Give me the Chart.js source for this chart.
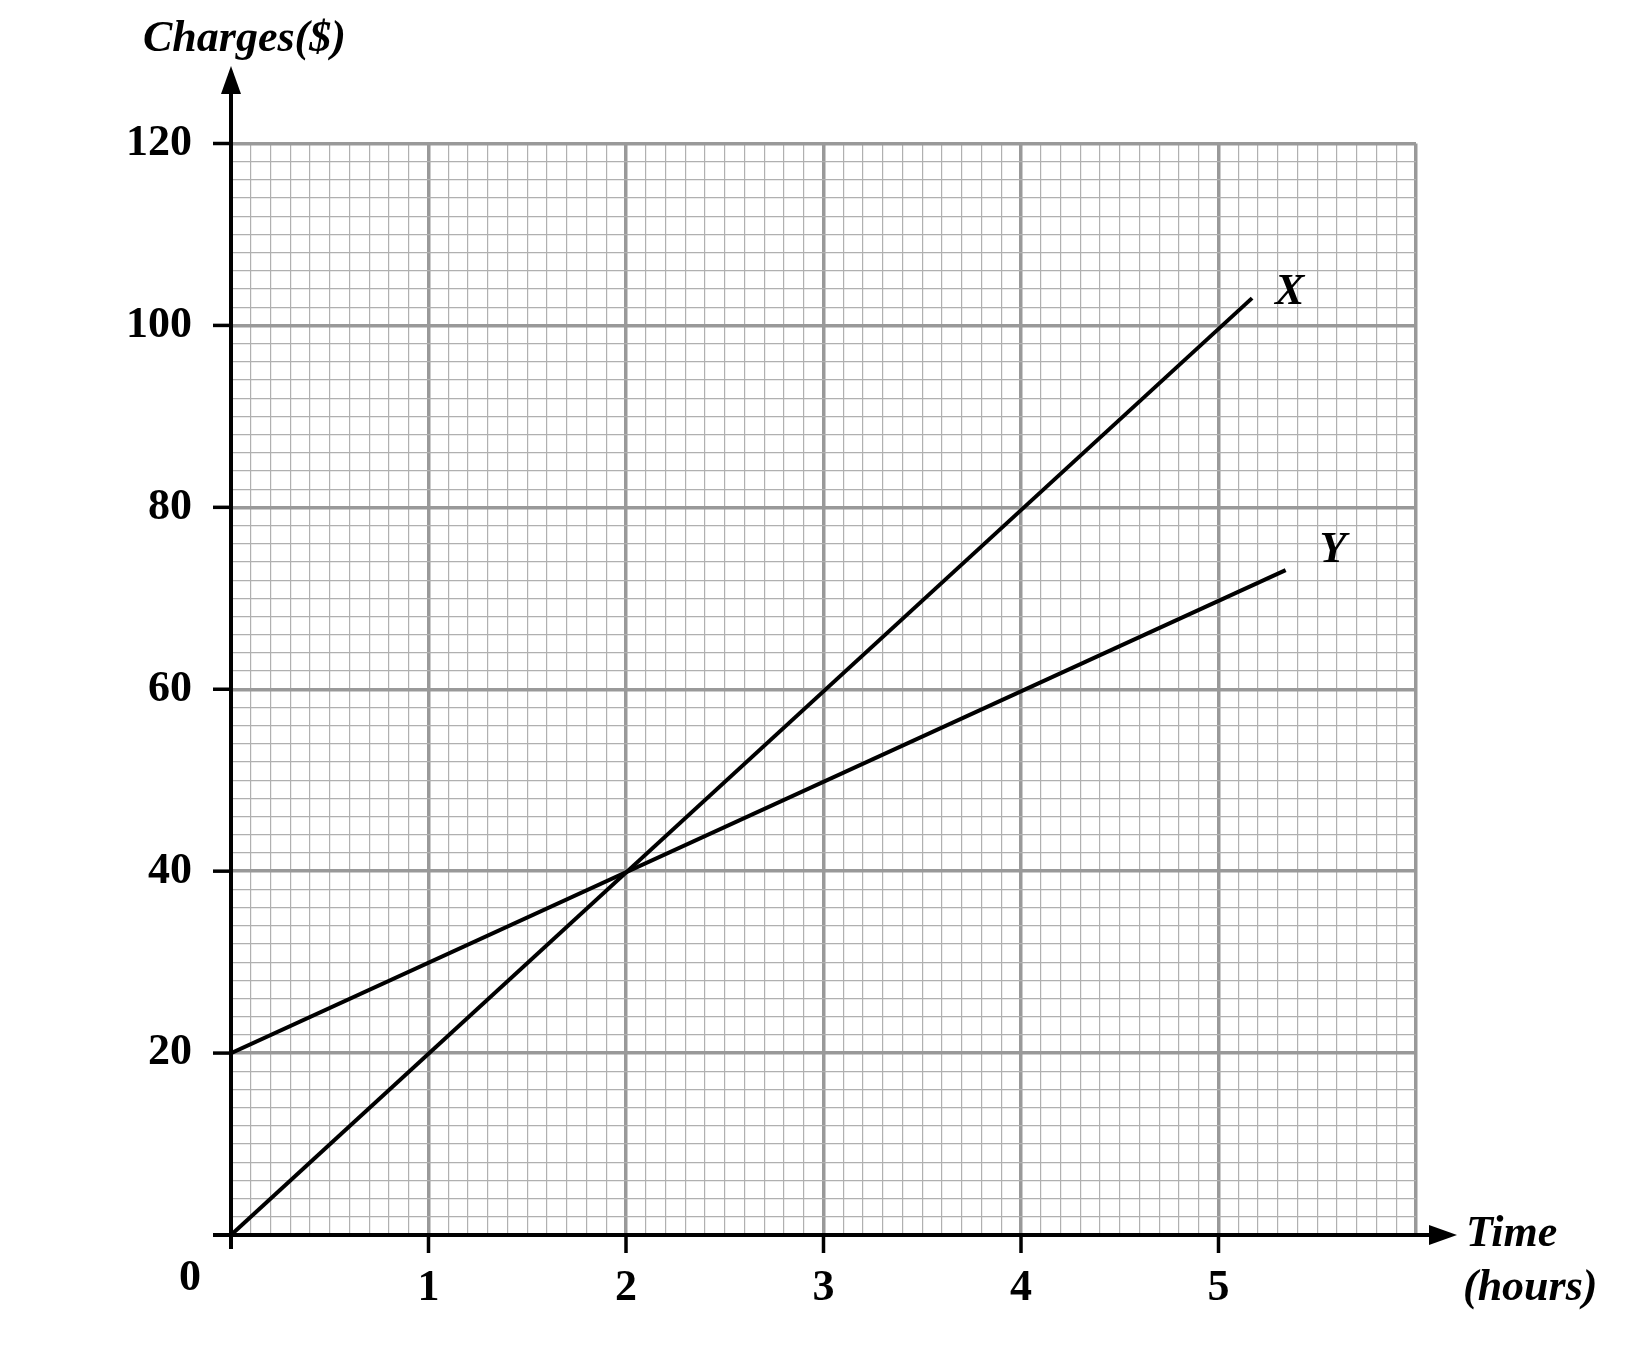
<!DOCTYPE html>
<html><head><meta charset="utf-8">
<script src="https://cdn.jsdelivr.net/npm/chart.js@4"></script>
<style>html,body{margin:0;padding:0;background:#fff}</style>
</head><body>
<canvas id="c" width="1630" height="1353" style="width:1630px;height:1353px"></canvas>
<script>
const xTickLabels = ['1','2','3','4','5'];
const yTickLabels = ['20','40','60','80','100','120'];
const seriesX = [{x:0,y:0},{x:5.17,y:103}];
const seriesY = [{x:0,y:20},{x:5.34,y:73.1}];
const lineLabels = [{t:'X',x:5.36,y:103.6},{t:'Y',x:5.58,y:75.2}];

const F = 'bold 44px "Liberation Serif", serif';
const FI = 'italic bold 44px "Liberation Serif", serif';
const deco = {
  id:'deco',
  afterDraw(chart){
    const c=chart.ctx, xs=chart.scales.x, ys=chart.scales.y;
    const x0=xs.getPixelForValue(0), y0=ys.getPixelForValue(0);
    c.save();
    c.strokeStyle='#000'; c.fillStyle='#000'; c.lineWidth=4;
    c.beginPath(); c.moveTo(x0,y0+14); c.lineTo(x0,85); c.stroke();
    c.beginPath(); c.moveTo(x0-18,y0); c.lineTo(1440,y0); c.stroke();
    c.beginPath(); c.moveTo(x0,66); c.lineTo(x0-10,94); c.lineTo(x0+10,94); c.closePath(); c.fill();
    c.beginPath(); c.moveTo(1457,y0); c.lineTo(1429,y0-10); c.lineTo(1429,y0+10); c.closePath(); c.fill();
    c.lineWidth=3.5;
    c.font=F; c.textBaseline='middle';
    yTickLabels.forEach(l=>{const p=ys.getPixelForValue(+l);
      c.beginPath(); c.moveTo(x0-18,p); c.lineTo(x0,p); c.stroke();
      c.textAlign='right'; c.fillText(l,192,p);});
    xTickLabels.forEach(l=>{const p=xs.getPixelForValue(+l);
      c.beginPath(); c.moveTo(p,y0); c.lineTo(p,y0+18); c.stroke();
      c.textAlign='center'; c.fillText(l,p,y0+54);});
    c.textAlign='center'; c.fillText('0',190,y0+44);
    c.font=FI;
    c.textAlign='left'; c.fillText('Charges($)',143,40);
    c.fillText('Time',1466,y0);
    c.fillText('(hours)',1463,y0+54);
    lineLabels.forEach(o=>{c.textAlign='center';c.fillText(o.t,xs.getPixelForValue(o.x),ys.getPixelForValue(o.y));});
    c.restore();
  }
};
new Chart(document.getElementById('c'),{
  type:'scatter',
  data:{datasets:[
    {data:seriesX,showLine:true,borderColor:'#000',borderWidth:4,pointRadius:0},
    {data:seriesY,showLine:true,borderColor:'#000',borderWidth:4,pointRadius:0}
  ]},
  options:{
    responsive:false,animation:false,
    layout:{padding:{left:0,top:143.5,right:1630-1416,bottom:0}},
    plugins:{legend:{display:false},tooltip:{enabled:false}},
    scales:{
      x:{type:'linear',min:0,max:6,ticks:{display:false,stepSize:0.1},border:{display:false},
        afterFit(s){s.height=1353-1235;},
        grid:{drawTicks:false,color:c=>c.index%10===0?'#999':'#b0b0b0',lineWidth:c=>c.index%10===0?3.5:1.2}},
      y:{type:'linear',min:0,max:120,ticks:{display:false,stepSize:2},border:{display:false},
        afterFit(s){s.width=231;},
        grid:{drawTicks:false,color:c=>c.index%10===0?'#999':'#b0b0b0',lineWidth:c=>c.index%10===0?3.5:1.2}}
    }
  },
  plugins:[deco]
});
</script>
</body></html>
